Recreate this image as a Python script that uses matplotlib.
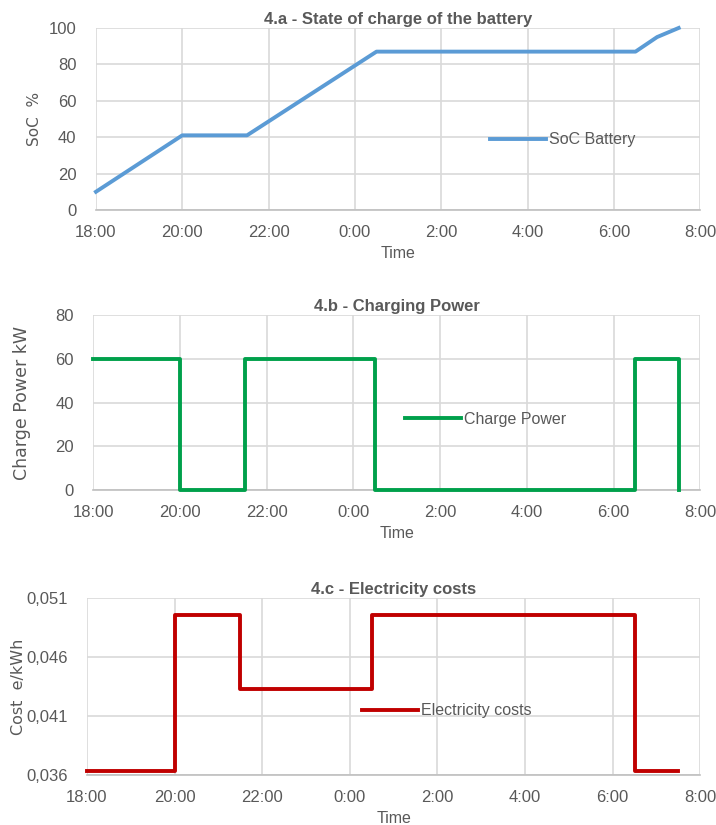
import matplotlib
matplotlib.use('Agg')
import matplotlib.pyplot as plt

plt.rcParams['font.family'] = ['Liberation Sans Narrow', 'Liberation Sans', 'DejaVu Sans']

# hours after 18:00
tick_pos = [0, 2, 4, 6, 8, 10, 12, 14]
tick_labels = ['18:00', '20:00', '22:00', '0:00', '2:00', '4:00', '6:00', '8:00']

soc_t = [0, 2, 3.5, 6.5, 12.5, 13, 13.5]
soc_v = [10, 41, 41, 87, 87, 95, 100]

power_t = [0, 2, 3.5, 6.5, 12.5, 13.5]
power_v = [60, 0, 60, 0, 60, 0]

cost_t = [0, 2, 3.5, 6.5, 12.5, 13.5]
cost_v = [0.0363, 0.0496, 0.0433, 0.0496, 0.0363, 0.0363]

cost_ticks = [0.036, 0.041, 0.046, 0.051]
cost_tick_labels = ['0,036', '0,041', '0,046', '0,051']

grey = '#595959'
grid_c = '#D9D9D9'

fig = plt.figure(figsize=(7.16, 8.25), dpi=100)
ax1 = fig.add_axes([0.134, 0.7455, 0.844, 0.2206])
ax2 = fig.add_axes([0.130, 0.406, 0.848, 0.212])
ax3 = fig.add_axes([0.1215, 0.0606, 0.8565, 0.2145])


def style(ax, title, ylabel, ylab_x, ylab_size):
    ax.set_xlim(0, 14)
    ax.set_xticks(tick_pos, tick_labels)
    for s in ['top', 'right', 'left']:
        ax.spines[s].set_visible(False)
    ax.spines['bottom'].set_color('#BFBFBF')
    ax.spines['bottom'].set_linewidth(1.2)
    ax.grid(True, color=grid_c, linewidth=1.2)
    ax.set_axisbelow(True)
    ax.tick_params(length=0, labelsize=12, colors=grey)
    ax.tick_params(axis='x', pad=11)
    ax.tick_params(axis='y', pad=14)
    ax.set_title(title, fontsize=12, fontweight='bold', color=grey, pad=3)
    ax.set_xlabel('Time', fontsize=11.5, color=grey, labelpad=4)
    ax.set_ylabel(ylabel, fontsize=ylab_size, color=grey, family=['DejaVu Sans'])
    ax.yaxis.set_label_coords(ylab_x, 0.5)


def add_legend(ax, x, y):
    ax.legend(loc='center left', bbox_to_anchor=(x, y), frameon=False,
              handlelength=3.5, handletextpad=0.2, borderpad=0, borderaxespad=0,
              prop={'size': 11.5}, labelcolor=grey)


ax1.plot(soc_t, soc_v, color='#5B9BD5', lw=2.8, label='SoC Battery', clip_on=False)
ax1.set_ylim(0, 100)
ax1.set_yticks([0, 20, 40, 60, 80, 100])
style(ax1, '4.a - State of charge of the battery', 'SoC  %', -0.089, 11)
add_legend(ax1, 0.652, 0.385)

ax2.step(power_t, power_v, where='post', color='#00A04B', lw=2.8, label='Charge Power',
         clip_on=False, zorder=3)
ax2.set_ylim(0, 80)
ax2.set_yticks([0, 20, 40, 60, 80])
style(ax2, '4.b - Charging Power', 'Charge Power kW', -0.102, 12.5)
add_legend(ax2, 0.514, 0.406)

ax3.step(cost_t, cost_v, where='post', color='#C00000', lw=2.8, label='Electricity costs',
         clip_on=False, zorder=3)
ax3.set_ylim(0.036, 0.051)
ax3.set_yticks(cost_ticks, cost_tick_labels)
style(ax3, '4.c - Electricity costs', 'Cost  e/kWh', -0.1, 11.5)
add_legend(ax3, 0.449, 0.362)

fig.savefig('out.png', dpi=100)
